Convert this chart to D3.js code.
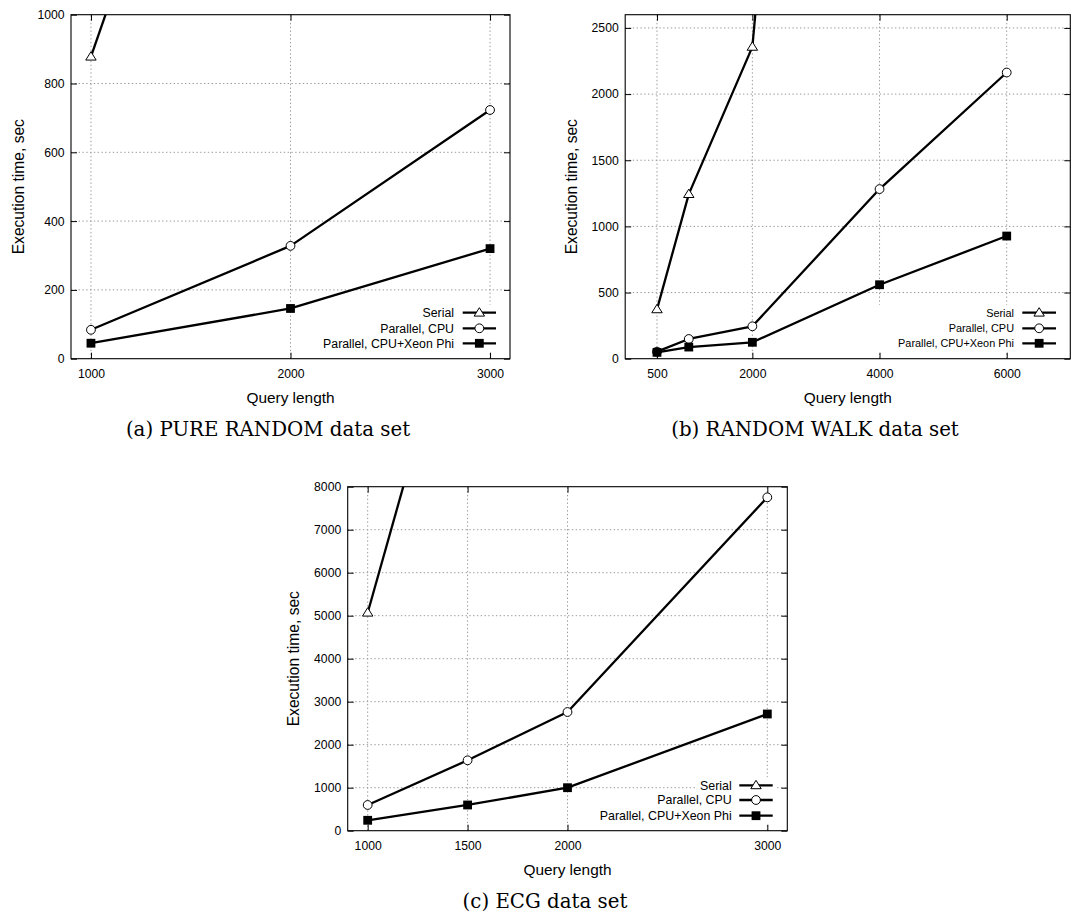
<!DOCTYPE html>
<html><head><meta charset="utf-8">
<script src="https://cdn.jsdelivr.net/npm/d3@7"></script>
<style>body{margin:0;background:#fff}</style>
</head><body><svg id="c" width="1073" height="913" xmlns="http://www.w3.org/2000/svg"></svg>
<script>
// ---------- data ----------
const seriesNames = ["Serial", "Parallel, CPU", "Parallel, CPU+Xeon Phi"];
const yAxisTitle = "Execution time, sec";
const xAxisTitle = "Query length";

// (a) PURE RANDOM
const aQuery  = [1000, 2000, 3000];
const aSerial = [878, 2550, null];
const aCPU    = [84, 328, 723];
const aXeon   = [45, 146, 320];
const aXTicks = [1000, 2000, 3000];
const aYTicks = [0, 200, 400, 600, 800, 1000];

// (b) RANDOM WALK
const bQuery  = [500, 1000, 2000, 4000, 6000];
const bSerial = [373, 1244, 2357, 13000, null];
const bCPU    = [53, 149, 245, 1282, 2163];
const bXeon   = [48, 88, 124, 559, 927];
const bXTicks = [500, 2000, 4000, 6000];
const bYTicks = [0, 500, 1000, 1500, 2000, 2500];

// (c) ECG
const cQuery  = [1000, 1500, 2000, 3000];
const cSerial = [5070, 13300, null, null];
const cCPU    = [598, 1637, 2760, 7753];
const cXeon   = [242, 598, 1000, 2714];
const cXTicks = [1000, 1500, 2000, 3000];
const cYTicks = [0, 1000, 2000, 3000, 4000, 5000, 6000, 7000, 8000];

const captions = ["(a) PURE RANDOM data set", "(b) RANDOM WALK data set", "(c) ECG data set"];

// ---------- layout ----------
const panels = [
  {q:aQuery, ys:[aSerial,aCPU,aXeon], xDomain:[900,3100], yDomain:[0,1000], xTicks:aXTicks, yTicks:aYTicks,
   left:71, right:510, top:14.7, bottom:358.7, ylabX:18.3,
   leg:{right:454, s0:462.7, s1:496, rows:[312.7,328.3,343.3], fs:12.3, boxL:320},
   cap:{x:268, y:436}},
  {q:bQuery, ys:[bSerial,bCPU,bXeon], xDomain:[0,7000], yDomain:[0,2600], xTicks:bXTicks, yTicks:bYTicks,
   left:625.2, right:1070.3, top:14.7, bottom:358.7, ylabX:571.7,
   leg:{right:1014, s0:1022.3, s1:1056, rows:[312.7,328.3,343.3], fs:10.9, boxL:872},
   cap:{x:815, y:436}},
  {q:cQuery, ys:[cSerial,cCPU,cXeon], xDomain:[900,3100], yDomain:[0,8000], xTicks:cXTicks, yTicks:cYTicks,
   left:347.7, right:787.3, top:486.7, bottom:830.7, ylabX:293.3,
   leg:{right:731.7, s0:739.3, s1:772.7, rows:[785.3,800,815.7], fs:12.4, boxL:697},
   cap:{x:545, y:908}}
];

const SANS = "'Liberation Sans', Arial, Helvetica, sans-serif";
const SERIF = "'DejaVu Serif', serif";
const svg = d3.select("#c");
const defs = svg.append("defs");

function marker(sel, type, cx, cy){
  if(type === 0){
    sel.append("path").attr("d", `M${cx},${cy-5} L${cx+5.2},${cy+3.4} L${cx-5.2},${cy+3.4} Z`)
      .attr("fill","#fff").attr("stroke","#000").attr("stroke-width",1);
  } else if(type === 1){
    sel.append("circle").attr("cx",cx).attr("cy",cy).attr("r",4.4)
      .attr("fill","#fff").attr("stroke","#000").attr("stroke-width",1);
  } else {
    sel.append("rect").attr("x",cx-4.4).attr("y",cy-4.4).attr("width",8.8).attr("height",8.8).attr("fill","#000");
  }
}

panels.forEach((p, i) => {
  const x = d3.scaleLinear().domain(p.xDomain).range([p.left, p.right]);
  const y = d3.scaleLinear().domain(p.yDomain).range([p.bottom, p.top]);
  const g = svg.append("g");
  const clipId = "clip" + i;
  defs.append("clipPath").attr("id", clipId).append("rect")
    .attr("x", p.left).attr("y", p.top).attr("width", p.right - p.left).attr("height", p.bottom - p.top);

  // grid
  const grid = g.append("g").attr("stroke","#9a9a9a").attr("stroke-width",1).attr("stroke-dasharray","1.4,2.4");
  grid.selectAll("line.gx").data(p.xTicks).join("line").attr("class","gx")
    .attr("x1",d=>x(d)).attr("x2",d=>x(d)).attr("y1",p.bottom).attr("y2",p.top);
  grid.selectAll("line.gy").data(p.yTicks.filter(v => v > p.yDomain[0] && v < p.yDomain[1])).join("line").attr("class","gy")
    .attr("x1",p.left).attr("x2",p.right).attr("y1",d=>y(d)).attr("y2",d=>y(d));

  // axes (inward ticks, mirrored)
  const fmt = d3.format("d");
  const axB = g.append("g").attr("transform",`translate(0,${p.bottom})`)
    .call(d3.axisBottom(x).tickValues(p.xTicks).tickSize(-6).tickPadding(10.8).tickFormat(fmt));
  const axL = g.append("g").attr("transform",`translate(${p.left},0)`)
    .call(d3.axisLeft(y).tickValues(p.yTicks).tickSize(-6).tickPadding(6.5).tickFormat(fmt));
  const axT = g.append("g").attr("transform",`translate(0,${p.top})`)
    .call(d3.axisTop(x).tickValues(p.xTicks).tickSize(-6).tickFormat(""));
  const axR = g.append("g").attr("transform",`translate(${p.right},0)`)
    .call(d3.axisRight(y).tickValues(p.yTicks).tickSize(-6).tickFormat(""));
  [axB, axL, axT, axR].forEach(a => {
    a.select(".domain").remove();
    a.attr("font-family", SANS).attr("font-size", 12.2);
    a.selectAll("line").attr("stroke","#000").attr("stroke-width",1);
    a.selectAll("text").attr("fill","#000");
  });

  // series
  const plot = g.append("g").attr("clip-path", `url(#${clipId})`);
  const line = d3.line().defined(d => d[1] != null).x(d => x(d[0])).y(d => y(d[1]));
  p.ys.forEach((vals, k) => {
    const pts = p.q.map((q, j) => [q, vals[j]]);
    plot.append("path").datum(pts).attr("d", line).attr("fill","none")
      .attr("stroke","#000").attr("stroke-width",2.3).attr("stroke-linejoin","round");
    pts.filter(d => d[1] != null && d[1] <= p.yDomain[1]).forEach(d => marker(plot, k, x(d[0]), y(d[1])));
  });

  // legend (opaque key box)
  const L = p.leg;
  g.append("rect").attr("x", L.boxL).attr("y", L.rows[0] - 8).attr("width", L.s1 + 4 - L.boxL)
    .attr("height", L.rows[2] - L.rows[0] + 16).attr("fill","#fff");
  seriesNames.forEach((name, k) => {
    const yy = L.rows[k];
    g.append("text").attr("x", L.right).attr("y", yy).attr("dy","0.35em").attr("text-anchor","end")
      .attr("font-family", SANS).attr("font-size", L.fs).attr("fill","#000").text(name);
    g.append("line").attr("x1", L.s0).attr("x2", L.s1).attr("y1", yy).attr("y2", yy)
      .attr("stroke","#000").attr("stroke-width",2.3);
    marker(g, k, (L.s0 + L.s1) / 2, yy);
  });

  // border
  g.append("rect").attr("x", p.left).attr("y", p.top).attr("width", p.right - p.left).attr("height", p.bottom - p.top)
    .attr("fill","none").attr("stroke","#000").attr("stroke-width",1.1);

  // axis titles
  g.append("text").attr("x", (p.left + p.right) / 2).attr("y", p.bottom + 44.5).attr("text-anchor","middle")
    .attr("font-family", SANS).attr("font-size", 15.4).attr("fill","#000").text(xAxisTitle);
  g.append("text").attr("transform", `translate(${p.ylabX},${(p.top + p.bottom) / 2}) rotate(-90)`)
    .attr("text-anchor","middle").attr("dy","0.35em")
    .attr("font-family", SANS).attr("font-size", 15.6).attr("fill","#000").text(yAxisTitle);

  // caption
  svg.append("text").attr("x", p.cap.x).attr("y", p.cap.y).attr("text-anchor","middle")
    .attr("font-family", SERIF).attr("font-size", 19.8).attr("fill","#000").text(captions[i]);
});
</script>
</body></html>
